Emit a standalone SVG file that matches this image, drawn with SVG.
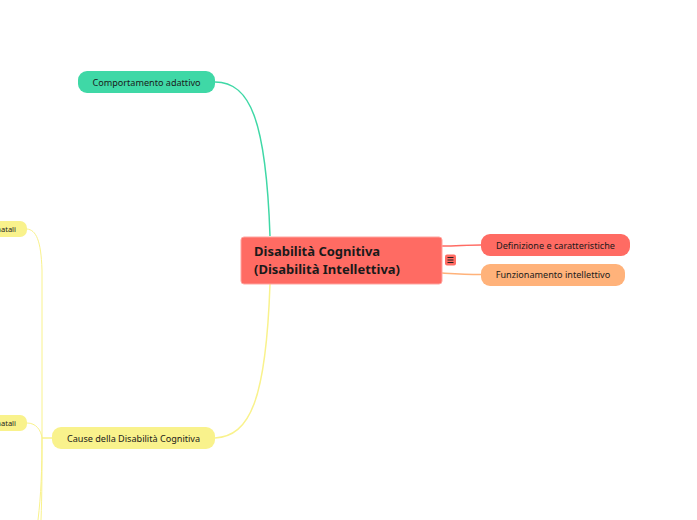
<svg xmlns="http://www.w3.org/2000/svg" width="697" height="520" viewBox="0 0 697 520">
<style>
text{font-family:"Noto Sans","DejaVu Sans",sans-serif;fill:#1a1a1a}
.s{font-size:9.100px;text-anchor:middle}
.e{font-size:7.500px;text-anchor:end}
.c{fill:none;stroke-width:1.500}
.y{stroke:#f9f28c}
.t{stroke-width:1}
.f{fill:#f9f28c}
</style>
<rect width="697" height="520" fill="#fff"/>
<g id="connectors">
<path class="c" stroke="#3fd8a6" d="M215 82C250 82 266 120 270 236"/>
<path class="c y" d="M215 438C250 436 266 400 270 284"/>
<path class="c" stroke="#ff6b63" d="M442 246C458 246 465 245 481 245"/>
<path class="c" stroke="#ffb27a" d="M442 273C458 274 465 274.500 481 274.500"/>
<path class="c y" d="M52 438L42 438"/>
<path class="c y t" d="M27 229C36 230 41 240 42 270L42 438"/>
<path class="c y t" d="M27 423C36 423 41 430 42 438"/>
<path class="c y t" d="M42 438C42 470 41 495 38 520"/>
<path class="c y t" d="M42 438C42 470 42 495 41 520"/>
</g>
<g id="node-root">
<rect x="241" y="237" width="201" height="47" rx="3" fill="#ff6b63" stroke="#ffa5a0" stroke-width="1"/>
<text x="254" y="256" font-size="13" font-weight="700" fill="#111">Disabilità Cognitiva</text>
<text x="254" y="274" font-size="13" font-weight="700" fill="#111">(Disabilità Intellettiva)</text>
</g>
<g id="node-toggle">
<rect x="445" y="254.500" width="11" height="11" rx="2" fill="#ff6b63"/>
<path d="M447.500 257.500H453.500M447.500 260H453.500M447.500 262.500H453.500" stroke="#222" stroke-width="1" fill="none"/>
</g>
<g id="node-comportamento">
<rect x="78" y="71" width="137" height="22" rx="9" fill="#3fd8a6"/>
<text class="s" x="146.500" y="85.500">Comportamento adattivo</text>
</g>
<g id="node-definizione">
<rect x="481" y="234" width="149" height="22" rx="9" fill="#ff6b63"/>
<text class="s" x="555.500" y="248.500">Definizione e caratteristiche</text>
</g>
<g id="node-funzionamento">
<rect x="481" y="264" width="144" height="22" rx="9" fill="#ffb27a"/>
<text class="s" x="553" y="278">Funzionamento intellettivo</text>
</g>
<g id="node-cause">
<rect class="f" x="52" y="427" width="163" height="22" rx="9"/>
<text class="s" x="133.500" y="441.500">Cause della Disabilità Cognitiva</text>
</g>
<g id="node-natali-1">
<rect class="f" x="-30" y="221" width="57" height="16" rx="7"/>
<text class="e" x="16" y="232">natali</text>
</g>
<g id="node-natali-2">
<rect class="f" x="-30" y="415" width="57" height="16" rx="7"/>
<text class="e" x="16" y="426">natali</text>
</g>
</svg>
